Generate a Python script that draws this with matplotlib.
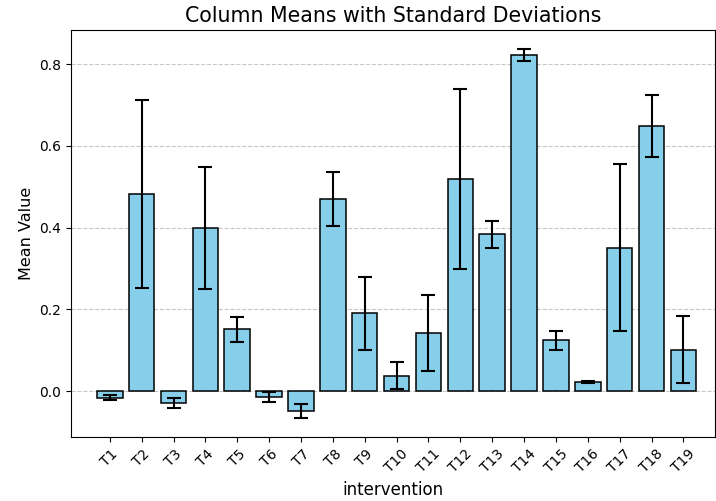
import matplotlib
matplotlib.use('Agg')
import matplotlib.pyplot as plt
import numpy as np

labels = ['T1', 'T2', 'T3', 'T4', 'T5', 'T6', 'T7', 'T8', 'T9', 'T10',
          'T11', 'T12', 'T13', 'T14', 'T15', 'T16', 'T17', 'T18', 'T19']
means = [-0.017, 0.482, -0.029, 0.399, 0.151, -0.014, -0.050, 0.469, 0.190, 0.037,
         0.141, 0.519, 0.383, 0.823, 0.124, 0.022, 0.351, 0.649, 0.101]
stds = [0.006, 0.230, 0.012, 0.150, 0.031, 0.012, 0.017, 0.066, 0.089, 0.033,
        0.093, 0.220, 0.032, 0.015, 0.024, 0.003, 0.204, 0.076, 0.082]

fig = plt.figure(figsize=(7.16, 5.01), dpi=100)
ax = fig.add_axes([0.099, 0.128, 0.900, 0.812])

x = np.arange(len(labels))
ax.bar(x, means, yerr=stds, width=0.8, color='skyblue', edgecolor='black',
       linewidth=1.1, capsize=5, error_kw={'elinewidth': 1.5, 'capthick': 1.5})
ax.set_axisbelow(True)
ax.grid(axis='y', linestyle='--', alpha=0.7)

ax.set_xticks(x)
ax.set_xticklabels(labels, rotation=45)
ax.set_xlim(-1.22, 19.0)
ax.set_title('Column Means with Standard Deviations', fontsize=14.8)
ax.set_xlabel('intervention', fontsize=12)
ax.set_ylabel('Mean Value', fontsize=11.5)

fig.savefig('out.png')
